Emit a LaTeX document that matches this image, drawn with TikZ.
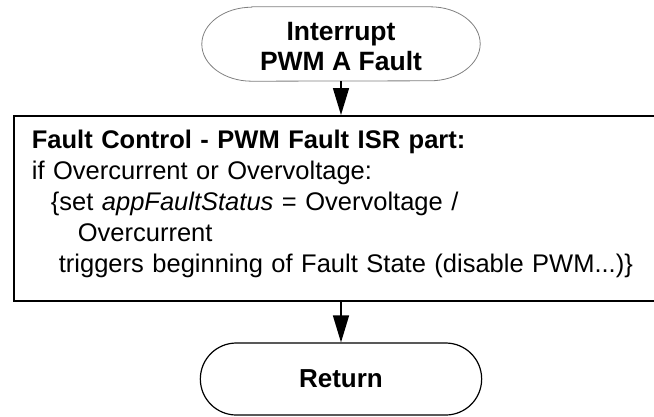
\documentclass[tikz,border=0pt]{standalone}
\usepackage{fontspec}
\setmainfont{Liberation Sans}
\usetikzlibrary{arrows.meta,shapes.misc}

\tikzset{
  flowtext/.style={font=\fontsize{25.5}{31}\selectfont},
  titletext/.style={font=\fontsize{26.5}{30}\selectfont\bfseries},
  flowarrow/.style={line width=1.5pt, -{Triangle[length=27pt, width=16pt]}},
  stopbox/.style={rounded rectangle, draw, line width=1.2pt,
    minimum width=288pt, minimum height=72pt, font=\fontsize{26}{30}\selectfont\bfseries},
  isrbox/.style={draw, line width=1.8pt, flowtext, align=left, anchor=north west,
    text width=612pt, inner xsep=18pt, minimum height=185pt}
}

\begin{document}
\begin{tikzpicture}[x=1pt, y=1pt]
        \clip (0, 0) rectangle (654, -416);

        % Draw the interrupt entry
        \node[titletext, align=center, minimum width=278pt, minimum height=74pt]
              (start) at (341, -44) {\rule{0pt}{24pt}Interrupt\\PWM A Fault};
        \draw[gray, line width=0.8pt]
              ([xshift=50pt]start.north west) -- ([xshift=-50pt]start.north east)
              arc[start angle=90, end angle=-90, x radius=50, y radius=37]
              -- ([xshift=50pt]start.south west)
              arc[start angle=270, end angle=90, x radius=50, y radius=37] -- cycle;

        % Draw the fault control box
        \node[isrbox] (faultctl) at (13, -115) {%
              \textbf{Fault Control - PWM Fault ISR part:}\\
              if Overcurrent or Overvoltage:\\
              \hspace*{19pt}\{set \textit{appFaultStatus} = Overvoltage /\\
              \hspace*{46pt}Overcurrent\\
              \hspace*{27pt}triggers beginning of Fault State (disable PWM...)\}%
              \rule[-14pt]{0pt}{14pt}};

        % Draw the return
        \node[stopbox] (stop) at (341, -379) {Return};

        % Draw the arrows
        \draw[flowarrow] (start.south) -- (start.south |- faultctl.north);
        \draw[flowarrow] (faultctl.south -| stop.north) -- (stop.north);
\end{tikzpicture}
\end{document}
